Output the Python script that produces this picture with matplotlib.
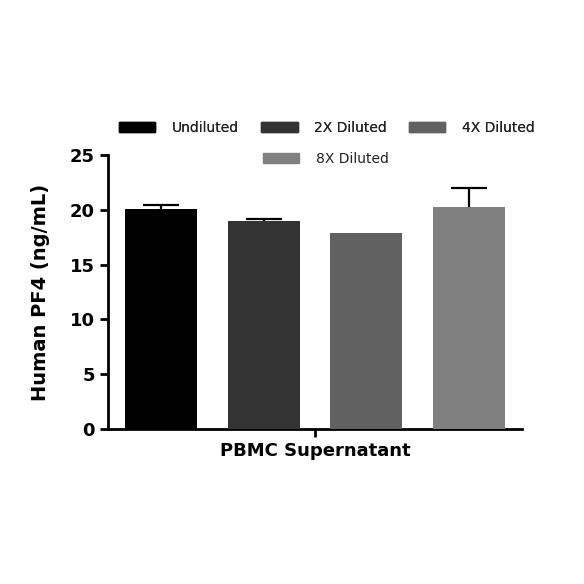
import matplotlib
matplotlib.use("Agg")
import matplotlib.pyplot as plt
from matplotlib.patches import Patch

# data
groups = ["Undiluted", "2X Diluted", "4X Diluted", "8X Diluted"]
values = [20.1, 18.95, 17.85, 20.3]
errors = [0.35, 0.25, 0.0, 1.65]
colors = ["#000000", "#333333", "#616161", "#808080"]
category = "PBMC Supernatant"

plt.rcParams["font.family"] = ["DejaVu Sans"]

fig = plt.figure(figsize=(5.84, 5.84), dpi=100)
ax = fig.add_axes([108 / 584, 1 - 429 / 584, 414 / 584, 274 / 584])

x = range(len(values))
# bars sit on top of the error lines so only the upper whisker shows
ax.bar(x, values, width=0.7, color=colors, zorder=3)
for xi, v, e in zip(x, values, errors):
    if e > 0:
        ax.errorbar(xi, v, yerr=e, fmt="none", ecolor="black",
                    elinewidth=1.6, capsize=13, capthick=1.6, zorder=2)

ax.set_xlim(-0.516, 3.516)
ax.set_ylim(0, 25)
ax.set_yticks([0, 5, 10, 15, 20, 25])
ax.set_xticks([1.5])
ax.set_xticklabels([category])
for lab in ax.get_yticklabels() + ax.get_xticklabels():
    lab.set_fontweight("bold")
    lab.set_fontsize(13)
ax.tick_params(axis="both", width=2, length=6, color="black")
ax.set_ylabel("Human PF4 (ng/mL)", fontsize=14, fontweight="bold", labelpad=14)

ax.spines["top"].set_visible(False)
ax.spines["right"].set_visible(False)
ax.spines["left"].set_linewidth(2)
ax.spines["bottom"].set_linewidth(2)

handles = [Patch(facecolor=c, edgecolor=c) for c in colors]
leg1 = fig.legend(handles[:3], groups[:3], ncol=3, loc="center",
                  bbox_to_anchor=(327 / 584, 1 - 128 / 584), frameon=False,
                  fontsize=10, labelcolor="#222222", handlelength=2.6,
                  handleheight=0.8, handletextpad=1.2, columnspacing=1.6)
fig.legend(handles[3:], groups[3:], loc="center",
           bbox_to_anchor=(326 / 584, 1 - 159 / 584), frameon=False,
           fontsize=10, labelcolor="#222222", handlelength=2.6,
           handleheight=0.8, handletextpad=1.2)
fig.add_artist(leg1)

fig.savefig("out.png", dpi=100)
